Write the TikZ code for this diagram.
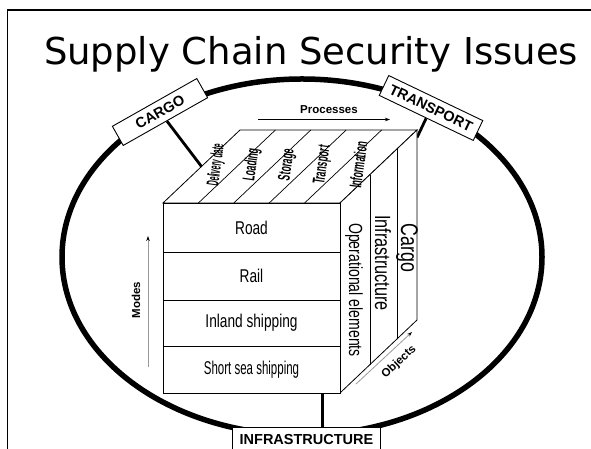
\documentclass[tikz,border=0pt]{standalone}
\usepackage{fontspec}
\setmainfont{Liberation Sans}
\newfontfamily\titlefont{DejaVu Sans}
\newfontfamily\narrowfont[FakeStretch=0.74]{Liberation Sans}
\newfontfamily\squeezefont[FakeStretch=0.5]{Liberation Sans}
\usetikzlibrary{calc,arrows.meta}

\begin{document}
\begin{tikzpicture}[x=1pt, y=1pt,
    labelbox/.style={draw, line width=0.9pt, fill=white, font=\bfseries\fontsize{14.5}{14.5}\selectfont, inner xsep=7pt, inner ysep=5pt, minimum height=22pt},
    rowlabel/.style={font=\narrowfont\fontsize{18.5}{18.5}\selectfont},
    toplabel/.style={font=\squeezefont\bfseries\fontsize{17}{17}\selectfont, rotate=82, inner sep=0pt},
    sidelabel/.style={font=\narrowfont\fontsize{19}{19}\selectfont, rotate=-90, inner sep=0pt},
    axislabel/.style={font=\bfseries\fontsize{11.5}{11.5}\selectfont, inner sep=1pt},
    axisarrow/.style={draw=black!40, line width=0.8pt, -{Stealth[black, length=5pt, width=3.5pt]}}]

        \useasboundingbox (0,0) rectangle (591,449);

        % slide frame and title
        \draw[line width=1.8pt] (7.5,0) -- (7.5,439) -- (591,439);
        \node[font=\titlefont\fontsize{37}{37}\selectfont, anchor=base] (title) at (311,384) {Supply Chain Security Issues};

        % ring
        \draw[line width=5.5pt] (302,192) ellipse [x radius=240, y radius=178];

        % cube corners
        \coordinate (ftl) at (163,246);
        \coordinate (ftr) at (340,246);
        \coordinate (fbr) at (340,56);
        \coordinate (fbl) at (163,56);
        \coordinate (btl) at (240,319);
        \coordinate (btr) at (417,319);
        \coordinate (bbr) at (417,129);

        % labels on the ring
        \node[labelbox, rotate=29.5, minimum width=97pt] (cargo) at (160,337) {CARGO};
        \node[labelbox, rotate=-25.6] (transport) at (431,341) {TRANSPORT};
        \node[labelbox, anchor=north, inner ysep=7pt] (infra) at (306.5,22) {INFRASTRUCTURE};

        % connectors to the cube
        \coordinate (cargoend) at ($(ftl)!0.5!(btl)$);
        \coordinate (transportend) at ($(btr)!0.04!(bbr)$);
        \coordinate (infraend) at ($(fbl)!0.9!(fbr)$);
        \draw[line width=2.8pt] (cargo) -- (cargoend);
        \draw[line width=2.8pt] (transport) -- (transportend);
        \draw[line width=2.8pt] (infraend) -- (infraend |- infra.north);

        % cube faces
        \draw[line width=0.8pt, fill=white] (ftl) -- (btl) -- (btr) -- (ftr) -- cycle;
        \draw[line width=0.8pt, fill=white] (ftr) -- (btr) -- (bbr) -- (fbr) -- cycle;
        \draw[line width=0.8pt, fill=white] (fbl) rectangle (ftr);
        \foreach \y in {197,149,103}
            \draw[line width=0.7pt] (163,\y) -- (340,\y);
        \foreach \i in {1,...,4}
            \draw[line width=0.7pt] ($(ftl)!\i/5!(ftr)$) -- ($(btl)!\i/5!(btr)$);
        \foreach \f in {0.39,0.74}
            \draw[line width=0.7pt] ($(ftr)!\f!(btr)$) -- ($(fbr)!\f!(bbr)$);

        % modes
        \node[rowlabel] (road) at (251.5,221.5) {Road};
        \node[rowlabel] (rail) at (251.5,173) {Rail};
        \node[rowlabel] (inland) at (251.5,126) {Inland shipping};
        \node[rowlabel, xscale=0.84, transform shape] (shortsea) at (251.5,79.5) {Short sea shipping};

        % processes
        \node[toplabel, xscale=0.8, transform shape] (proc0) at ($(ftl)!0.1!(ftr) + (36,38)$) {Delivery date};
        \foreach \t [count=\i from 1] in {Loading, Storage, Transport, Information}
            \node[toplabel] (proc\i) at ($(ftl)!{(\i+0.5)/5}!(ftr) + (36,38)$) {\t};

        % objects
        \node[sidelabel] (operational) at (354,159) {Operational elements};
        \node[sidelabel, font=\narrowfont\fontsize{22}{22}\selectfont] (infrastructure) at (383,186) {Infrastructure};
        \node[sidelabel, font=\narrowfont\fontsize{24}{24}\selectfont] (cargoobj) at (407,201) {Cargo};

        % axes
        \coordinate (pstart) at (258,329.5);
        \coordinate (pend) at (390,329.5);
        \draw[line width=0.7pt, -{Stealth[length=5pt, width=3.5pt]}] (pstart) -- (pend);
        \node[axislabel] (processes) at (329,339) {Processes};

        \coordinate (mstart) at (148,82);
        \coordinate (mend) at (148,213);
        \draw[axisarrow] (mstart) -- (mend);
        \node[axislabel, rotate=90] (modes) at (136,149) {Modes};

        \coordinate (ostart) at (356,65);
        \coordinate (oend) at (412,117);
        \draw[axisarrow] (ostart) -- (oend);
        \node[axislabel, rotate=43] (objects) at (399,87) {Objects};

\end{tikzpicture}
\end{document}
